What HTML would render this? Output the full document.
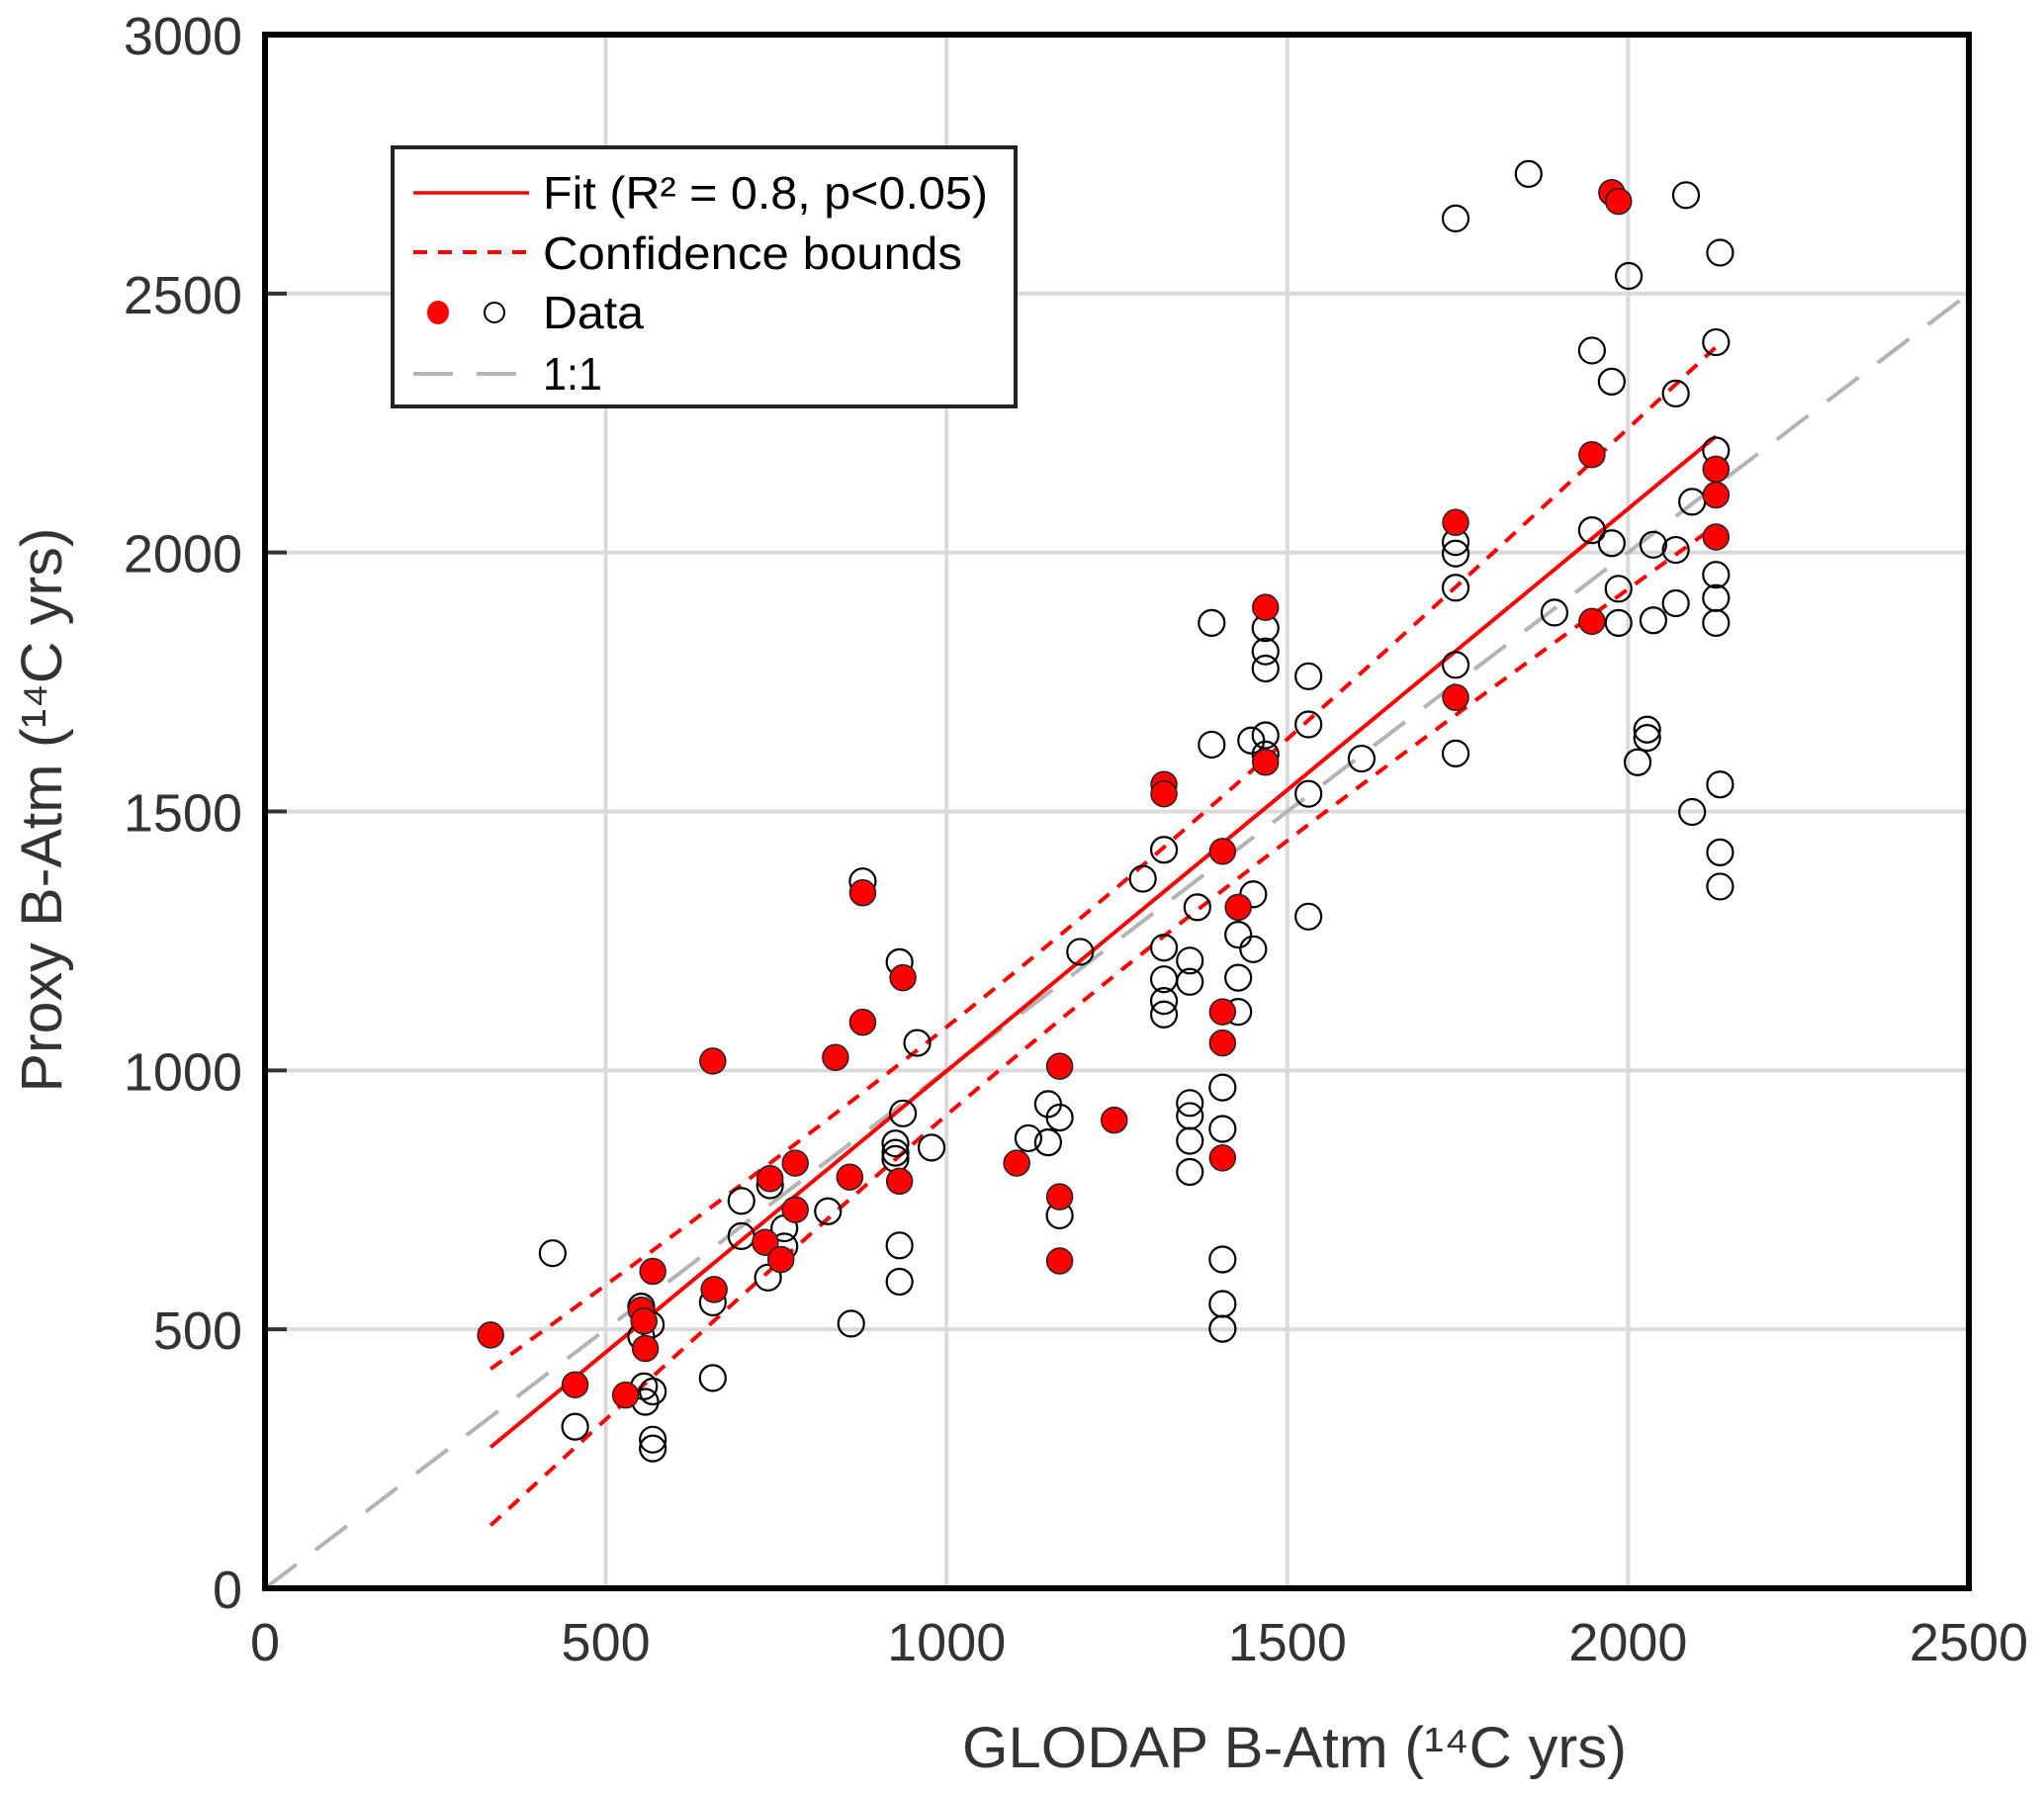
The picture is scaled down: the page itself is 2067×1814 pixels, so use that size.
<!DOCTYPE html>
<html><head><meta charset="utf-8"><style>
html,body{margin:0;padding:0;background:#fff;}
svg{display:block;font-family:"Liberation Sans",sans-serif;}
</style></head><body>
<svg id="chart" width="2067" height="1814" viewBox="0 0 2067 1814" xmlns="http://www.w3.org/2000/svg">
<rect x="0" y="0" width="2067" height="1814" fill="#fff"/>
<g id="grid"></g>
<g id="lines"></g>
<g id="points"></g>
<g id="axes"></g>
<text x="1309" y="1787" font-size="58" fill="#333" text-anchor="middle" textLength="672" lengthAdjust="spacingAndGlyphs">GLODAP B-Atm (¹⁴C yrs)</text>
<text transform="translate(62,819) rotate(-90)" font-size="58" fill="#333" text-anchor="middle" textLength="571" lengthAdjust="spacingAndGlyphs">Proxy B-Atm (¹⁴C yrs)</text>
<g>
<rect x="397" y="149" width="630" height="262" fill="#fff" stroke="#222" stroke-width="4"/>
<line x1="418" y1="195" x2="535" y2="195" stroke="#f00" stroke-width="3.5"/>
<text x="549" y="211" font-size="46" fill="#000" textLength="450" lengthAdjust="spacingAndGlyphs">Fit (R² = 0.8, p&lt;0.05)</text>
<line x1="418" y1="255" x2="535" y2="255" stroke="#f00" stroke-width="4" stroke-dasharray="14,11"/>
<text x="549" y="272" font-size="46" fill="#000" textLength="424" lengthAdjust="spacingAndGlyphs">Confidence bounds</text>
<ellipse cx="443" cy="316" rx="11" ry="12" fill="#f00"/>
<circle cx="500" cy="316" r="10" fill="#fff" stroke="#000" stroke-width="2"/>
<text x="549" y="332" font-size="46" fill="#000" textLength="102" lengthAdjust="spacingAndGlyphs">Data</text>
<line x1="418" y1="378" x2="535" y2="378" stroke="#b3b3b3" stroke-width="4" stroke-dasharray="40,24"/>
<text x="549" y="394" font-size="46" fill="#000" textLength="60" lengthAdjust="spacingAndGlyphs">1:1</text>
</g>
</svg>
<script>
const xTicks = [0, 500, 1000, 1500, 2000, 2500];
const yTicks = [0, 500, 1000, 1500, 2000, 2500, 3000];
const fitSlope = 1.0857;
const fitIntercept = -87;
const fitRange = [331, 2129];
const redX = [331,455,529,552,556,558,569,657,659,734,741,757,778,778,837,858,877,877,931,936,1103,1166,1166,1166,1246,1319,1319,1405,1405,1405,1405,1428,1468,1468,1747,1747,1947,1947,1976,1986,2129,2129,2129];
const redY = [489,393,373,537,516,463,612,1018,577,668,791,635,821,731,1025,794,1093,1343,786,1179,821,1008,756,632,904,1552,1534,1423,1113,1053,831,1315,1894,1595,2058,1720,2189,1867,2695,2678,2161,2111,2030];
const openX = [422,455,552,552,566,556,558,569,569,569,657,657,699,699,741,738,762,762,826,860,925,925,925,931,936,931,931,957,978,877,1120,1149,1149,1166,1166,1196,1288,1319,1319,1319,1319,1319,1357,1357,1357,1357,1357,1357,1368,1389,1389,1405,1405,1405,1405,1405,1428,1428,1428,1447,1450,1450,1468,1468,1468,1468,1468,1531,1531,1531,1531,1609,1747,1747,1747,1747,1747,1747,1854,1892,1947,1947,1976,1976,1986,1986,2001,2028,2028,2014,2037,2037,2070,2070,2070,2085,2094,2094,2129,2129,2129,2129,2129,2135,2135,2135,2135];
const openY = [647,312,544,486,509,390,360,380,287,270,552,406,748,680,778,600,695,660,728,511,859,841,829,1209,917,662,592,1053,851,1365,869,861,935,909,720,1229,1370,1426,1237,1176,1134,1108,1212,1171,937,912,864,804,1315,1864,1629,967,887,635,549,501,1262,1179,1113,1637,1340,1234,1854,1809,1776,1647,1610,1761,1668,1534,1297,1602,2645,2020,1998,1932,1783,1612,2731,1884,2390,2043,2330,2018,1930,1864,2534,1658,1642,1595,2015,1869,2307,2005,1902,2690,2098,1499,2406,2197,1957,1912,1864,2579,1552,1421,1355];

const NS = 'http://www.w3.org/2000/svg';
const L = 268, R = 1991, T = 35, B = 1606;
const xMax = 2500, yMax = 3000;
function sx(v){ return L + v / xMax * (R - L); }
function sy(v){ return B - v / yMax * (B - T); }
function mk(tag, attrs, parent){
  const e = document.createElementNS(NS, tag);
  for (const k in attrs) e.setAttribute(k, attrs[k]);
  parent.appendChild(e);
  return e;
}
const grid = document.getElementById('grid');
const lines = document.getElementById('lines');
const pts = document.getElementById('points');
const axes = document.getElementById('axes');

xTicks.forEach(function(t){
  if (t > 0 && t < xMax) {
    const g = mk('line', {x1: sx(t), x2: sx(t), y1: T, y2: B, stroke: '#dadada', 'stroke-width': 4}, grid);
    
    
  }
  const tx = mk('text', {x: sx(t), y: 1679, 'font-size': 54, fill: '#333', 'text-anchor': 'middle'}, axes);
  tx.textContent = String(t);
  
  
});
yTicks.forEach(function(t){
  if (t > 0 && t < yMax) {
    const g = mk('line', {x1: L, x2: R, y1: sy(t), y2: sy(t), stroke: '#dadada', 'stroke-width': 4}, grid);
    
    
    const tk = mk('line', {x1: L, x2: L + 22, y1: sy(t), y2: sy(t), stroke: '#333', 'stroke-width': 4}, axes);
    
    
  }
  const ty = mk('text', {x: 245, y: sy(t) + 20, 'font-size': 54, fill: '#333', 'text-anchor': 'end'}, axes);
  ty.textContent = String(t);
  
  
});

const one = mk('line', {x1: sx(0), y1: sy(0), x2: sx(2500), y2: sy(2500), stroke: '#b3b3b3', 'stroke-width': 4, 'stroke-dasharray': '40,24'}, lines);



function half(x){ return Math.sqrt(6684 + 0.02403 * (x - 1150) * (x - 1150)); }
['upper', 'lower'].forEach(function(side){
  let d = '';
  for (let i = 0; i <= 60; i++) {
    const x = fitRange[0] + (fitRange[1] - fitRange[0]) * i / 60;
    const y = fitSlope * x + fitIntercept + (side === 'upper' ? 1 : -1) * half(x);
    d += (i ? 'L' : 'M') + sx(x).toFixed(1) + ',' + sy(y).toFixed(1);
  }
  const p = mk('path', {d: d, fill: 'none', stroke: '#f00', 'stroke-width': 4, 'stroke-dasharray': '14,11'}, lines);
  
  
});

const fit = mk('line', {x1: sx(fitRange[0]), y1: sy(fitSlope * fitRange[0] + fitIntercept), x2: sx(fitRange[1]), y2: sy(fitSlope * fitRange[1] + fitIntercept), stroke: '#f00', 'stroke-width': 4}, lines);



openX.forEach(function(x, i){
  const c = mk('circle', {cx: sx(x), cy: sy(openY[i]), r: 13, fill: 'none', stroke: '#000', 'stroke-width': 2.2}, pts);
  
  
});
redX.forEach(function(x, i){
  const c = mk('circle', {cx: sx(x), cy: sy(redY[i]), r: 13, fill: '#f00', stroke: '#222', 'stroke-width': 1.5}, pts);
  
  
});

const frame = mk('rect', {x: L, y: T, width: R - L, height: B - T, fill: 'none', stroke: '#000', 'stroke-width': 6}, axes);


</script>
</body></html>
